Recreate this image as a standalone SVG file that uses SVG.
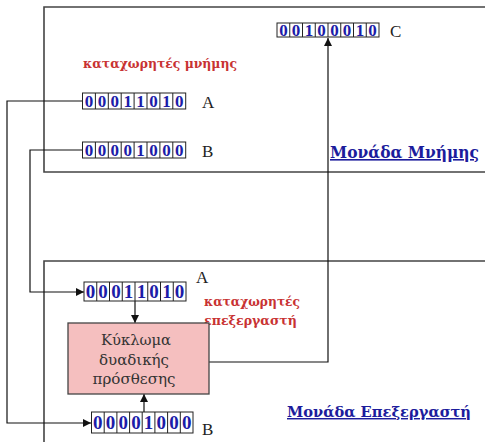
<svg xmlns="http://www.w3.org/2000/svg" width="485" height="442" viewBox="0 0 485 442">
<style>
.frame{fill:none;stroke:#444;stroke-width:1.6}
.cell{fill:#fff;stroke:#222;stroke-width:1}
.dm{font-family:"Liberation Serif","DejaVu Serif",serif;font-weight:bold;font-size:17px;fill:#1c1ca8;text-anchor:middle}
.dp{font-family:"Liberation Serif","DejaVu Serif",serif;font-weight:bold;font-size:19px;fill:#1c1ca8;text-anchor:middle}
.lbl{font-family:"Liberation Serif","DejaVu Serif",serif;font-size:17px;fill:#222}
.red{font-family:"DejaVu Serif","Liberation Serif",serif;font-weight:bold;font-size:12px;fill:#c83232}
.unit{font-family:"DejaVu Serif","Liberation Serif",serif;font-weight:bold;font-size:16px;fill:#1c1c9c;text-decoration:underline}
.add{font-family:"DejaVu Serif","Liberation Serif",serif;font-size:14px;fill:#333;text-anchor:middle}
.conn{fill:none;stroke:#111;stroke-width:1.2}
</style>
<defs>
<marker id="ah" viewBox="0 0 10 10" refX="10" refY="5" markerWidth="8" markerHeight="8" markerUnits="userSpaceOnUse" orient="auto">
<path d="M0,0 L10,5 L0,10 z" fill="#111"/>
</marker>
</defs>
<rect width="485" height="442" fill="#fff"/>

<g id="memory-unit">
<path class="frame" d="M486,7 H44 V172 H486"/>
<text class="red" x="83" y="68" textLength="154" lengthAdjust="spacingAndGlyphs">καταχωρητές μνήμης</text>
<text class="unit" x="330" y="158" textLength="149" lengthAdjust="spacingAndGlyphs">Μονάδα Μνήμης</text>
</g>

<g id="processor-unit">
<path class="frame" d="M486,261 H44 V443"/>
<text class="red" x="204" y="306" textLength="96" lengthAdjust="spacingAndGlyphs">καταχωρητές</text>
<text class="red" x="204" y="325" textLength="93" lengthAdjust="spacingAndGlyphs">επεξεργαστή</text>
<text class="unit" x="287" y="417" style="font-size:14.5px" textLength="184" lengthAdjust="spacingAndGlyphs">Μονάδα Επεξεργαστή</text>
</g>

<g id="connectors">
<path class="conn" d="M82,101 H7 V423 H91" marker-end="url(#ah)"/>
<path class="conn" d="M82,150 H30 V292 H84" marker-end="url(#ah)"/>
<path class="conn" d="M135,301 V323" marker-end="url(#ah)"/>
<path class="conn" d="M144,412 V394" marker-end="url(#ah)"/>
<path class="conn" d="M209,362 H328 V38" marker-end="url(#ah)"/>
</g>

<g id="reg-C">
<rect class="cell" x="277" y="23" width="102" height="14"/>
<path class="cell" d="M289.75,23v14M302.5,23v14M315.25,23v14M328,23v14M340.75,23v14M353.5,23v14M366.25,23v14"/>
<g class="dm"><text x="283.4" y="35.5">0</text><text x="296.1" y="35.5">0</text><text x="308.9" y="35.5">1</text><text x="321.6" y="35.5">0</text><text x="334.4" y="35.5">0</text><text x="347.1" y="35.5">0</text><text x="359.9" y="35.5">1</text><text x="372.6" y="35.5">0</text></g>
<text class="lbl" x="390" y="37">C</text>
</g>

<g id="reg-mem-A">
<rect class="cell" x="82.5" y="93" width="103.2" height="16"/>
<path class="cell" d="M95.4,93v16M108.3,93v16M121.2,93v16M134.1,93v16M147,93v16M159.9,93v16M172.8,93v16"/>
<g class="dm"><text x="89" y="107">0</text><text x="101.9" y="107">0</text><text x="114.8" y="107">0</text><text x="127.7" y="107">1</text><text x="140.6" y="107">1</text><text x="153.5" y="107">0</text><text x="166.4" y="107">1</text><text x="179.3" y="107">0</text></g>
<text class="lbl" x="202" y="108">A</text>
</g>

<g id="reg-mem-B">
<rect class="cell" x="82.5" y="142" width="103.2" height="16"/>
<path class="cell" d="M95.4,142v16M108.3,142v16M121.2,142v16M134.1,142v16M147,142v16M159.9,142v16M172.8,142v16"/>
<g class="dm"><text x="89" y="156">0</text><text x="101.9" y="156">0</text><text x="114.8" y="156">0</text><text x="127.7" y="156">0</text><text x="140.6" y="156">1</text><text x="153.5" y="156">0</text><text x="166.4" y="156">0</text><text x="179.3" y="156">0</text></g>
<text class="lbl" x="202" y="157">B</text>
</g>

<g id="reg-proc-A">
<rect class="cell" x="84" y="282" width="102" height="19"/>
<path class="cell" d="M96.75,282v19M109.5,282v19M122.25,282v19M135,282v19M147.75,282v19M160.5,282v19M173.25,282v19"/>
<g class="dp"><text x="90.4" y="298">0</text><text x="103.1" y="298">0</text><text x="115.9" y="298">0</text><text x="128.6" y="298">1</text><text x="141.4" y="298">1</text><text x="154.1" y="298">0</text><text x="166.9" y="298">1</text><text x="179.6" y="298">0</text></g>
<text class="lbl" x="196" y="283">A</text>
</g>

<g id="reg-proc-B">
<rect class="cell" x="91.5" y="412" width="101.5" height="21"/>
<path class="cell" d="M104.2,412v21M116.9,412v21M129.6,412v21M142.2,412v21M154.9,412v21M167.6,412v21M180.3,412v21"/>
<g class="dp"><text x="97.8" y="429">0</text><text x="110.5" y="429">0</text><text x="123.2" y="429">0</text><text x="135.9" y="429">0</text><text x="148.6" y="429">1</text><text x="161.3" y="429">0</text><text x="174" y="429">0</text><text x="186.7" y="429">0</text></g>
<text class="lbl" x="202" y="435">B</text>
</g>

<g id="adder">
<rect x="68" y="323" width="141" height="71" fill="#f5bfbf" stroke="#444" stroke-width="1.3"/>
<text class="add" x="136" y="345" textLength="70" lengthAdjust="spacingAndGlyphs">Κύκλωμα</text>
<text class="add" x="134" y="365" textLength="70" lengthAdjust="spacingAndGlyphs">δυαδικής</text>
<text class="add" x="134" y="384" textLength="83" lengthAdjust="spacingAndGlyphs">πρόσθεσης</text>
</g>
</svg>
